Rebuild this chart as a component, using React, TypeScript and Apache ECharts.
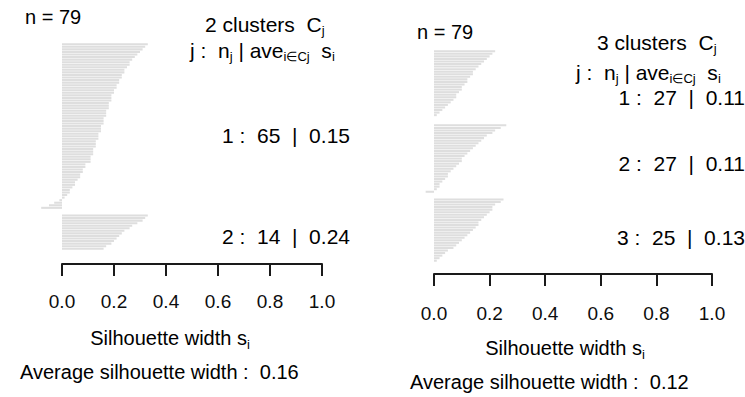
import React, { useEffect, useRef } from "react";
import * as echarts from "echarts";

// ---- data ----
const leftCluster1 = [
  0.33, 0.32, 0.31, 0.3, 0.29, 0.28, 0.27, 0.26, 0.26, 0.25, 0.24,
  0.24, 0.23, 0.23, 0.22, 0.22, 0.21, 0.21, 0.2, 0.2, 0.19, 0.19, 0.19, 0.18, 0.18, 0.18, 0.17, 0.17, 0.17, 0.16, 0.16,
  0.16, 0.15, 0.15, 0.15, 0.14, 0.14, 0.14, 0.13, 0.13, 0.13, 0.12, 0.12, 0.12, 0.11, 0.11, 0.11,
  0.09, 0.09, 0.08, 0.08, 0.07, 0.07, 0.06, 0.05, 0.05, 0.04, 0.03, 0.03, 0.02, 0.01,
  -0.01, -0.03, -0.05, -0.08,
];
const leftCluster2 = [0.33, 0.32, 0.31, 0.29, 0.27, 0.26, 0.24, 0.23, 0.22, 0.21, 0.2, 0.19, 0.17, 0.16];

const rightCluster1 = [
  0.22, 0.21, 0.2, 0.19, 0.18, 0.17, 0.16, 0.15, 0.14, 0.14, 0.13, 0.12, 0.12, 0.11,
  0.1, 0.1, 0.09, 0.08, 0.08, 0.07, 0.06, 0.05, 0.04, 0.03, 0.02, 0.01, 0.0,
];
const rightCluster2 = [
  0.26, 0.24, 0.22, 0.21, 0.19, 0.18, 0.17, 0.16, 0.15, 0.14, 0.13, 0.12, 0.11, 0.1,
  0.1, 0.09, 0.08, 0.07, 0.06, 0.05, 0.05, 0.04, 0.03, 0.02, 0.02, 0.01, -0.03,
];
const rightCluster3 = [
  0.25, 0.24, 0.22, 0.21, 0.21, 0.2, 0.19, 0.18, 0.17, 0.16, 0.16, 0.15, 0.14,
  0.13, 0.12, 0.11, 0.1, 0.09, 0.08, 0.07, 0.05, 0.04, 0.03, 0.02, 0.01,
];

const xTickValues = [0, 0.2, 0.4, 0.6, 0.8, 1.0];
const totalN = 79;
const leftK = 2;
const rightK = 3;
const leftSummary = [
  { j: 1, n: 65, ave: "0.15" },
  { j: 2, n: 14, ave: "0.24" },
];
const rightSummary = [
  { j: 1, n: 27, ave: "0.11" },
  { j: 2, n: 27, ave: "0.11" },
  { j: 3, n: 25, ave: "0.13" },
];
const leftAverage = "0.16";
const rightAverage = "0.12";

// ---- helpers ----
const FONT = "'Liberation Sans', Arial, Helvetica, sans-serif";
const INK = "#0d0d0d";
const GAP = 2;

function withGaps(clusters: number[][]) {
  const data: (number | string)[] = [];
  clusters.forEach((c, ci) => {
    if (ci > 0) for (let g = 0; g < GAP; g++) data.push("-");
    c.forEach((v) => data.push(v));
  });
  return data;
}

const rich = {
  m: { fontSize: 20, fontFamily: FONT, color: INK, lineHeight: 22 },
  b: { fontSize: 21, fontFamily: FONT, color: INK, lineHeight: 22 },
  s: { fontSize: 13, fontFamily: FONT, color: INK, padding: [13, 0, 0, 0] },
};

function txt(x: number, y: number, text: string, align: string = "left") {
  return {
    type: "text",
    x,
    y,
    silent: true,
    style: {
      text,
      rich,
      align,
      verticalAlign: "middle",
      textAlign: align,
      textVerticalAlign: "middle",
    },
  };
}

function summary(x: number, y: number, row: { j: number; n: number; ave: string }) {
  return txt(x, y, `{b|${row.j} :  ${row.n}  |  ${row.ave}}`, "right");
}

function xAxisFor(gridIndex: number, offset: number, margin: number) {
  return {
    gridIndex,
    type: "value",
    min: 0,
    max: 1,
    interval: 0.2,
    position: "bottom",
    offset,
    axisLine: { show: true, lineStyle: { color: "#1a1a1a", width: 2 } },
    axisTick: { show: true, length: 12, lineStyle: { color: "#1a1a1a", width: 2 } },
    axisLabel: {
      show: true,
      fontSize: 19,
      fontFamily: FONT,
      color: INK,
      margin,
      showMinLabel: true,
      showMaxLabel: true,
      formatter: (v: number) => (xTickValues.some((t) => Math.abs(t - v) < 1e-9) ? v.toFixed(1) : ""),
    },
    splitLine: { show: false },
  };
}

export default function App() {
  const ref = useRef<HTMLDivElement>(null);

  useEffect(() => {
    document.body.style.margin = "0";
    if (!ref.current) return;
    const chart = echarts.init(ref.current, undefined, { renderer: "svg" });

    const leftData = withGaps([leftCluster1, leftCluster2]);
    const rightData = withGaps([rightCluster1, rightCluster2, rightCluster3]);
    const leftCats = leftData.map((_, i) => String(i + 1));
    const rightCats = rightData.map((_, i) => String(i + 1));

    const barStyle = { color: "#dedede" };

    const option = {
      animation: false,
      backgroundColor: "#ffffff",
      grid: [
        { left: 62, width: 260, top: 43, height: 207 },
        { left: 434, width: 278, top: 50, height: 212 },
      ],
      xAxis: [xAxisFor(0, 14, 28), xAxisFor(1, 12, 30)],
      yAxis: [
        { gridIndex: 0, type: "category", data: leftCats, inverse: true, show: false },
        { gridIndex: 1, type: "category", data: rightCats, inverse: true, show: false },
      ],
      series: [
        {
          type: "bar",
          xAxisIndex: 0,
          yAxisIndex: 0,
          data: leftData,
          barWidth: "80%",
          clip: false,
          silent: true,
          itemStyle: barStyle,
        },
        {
          type: "bar",
          xAxisIndex: 1,
          yAxisIndex: 1,
          data: rightData,
          barWidth: "80%",
          clip: false,
          silent: true,
          itemStyle: barStyle,
        },
      ],
      graphic: [
        // left panel
        txt(25, 17, `{m|n = ${totalN}}`),
        txt(205, 24, `{b|${leftK} clusters  C}{s|j}`),
        txt(190, 50, `{b|j :  n}{s|j}{b| | ave}{s|i∈Cj}{b|  s}{s|i}`),
        summary(350, 135, leftSummary[0]),
        summary(350, 236, leftSummary[1]),
        txt(170, 338, `{m|Silhouette width s}{s|i}`, "center"),
        txt(20, 372, `{m|Average silhouette width :  ${leftAverage}}`),
        // right panel
        txt(417, 32, `{m|n = ${totalN}}`),
        txt(597, 42, `{b|${rightK} clusters  C}{s|j}`),
        txt(576, 72, `{b|j :  n}{s|j}{b| | ave}{s|i∈Cj}{b|  s}{s|i}`),
        summary(745, 97, rightSummary[0]),
        summary(745, 163, rightSummary[1]),
        summary(745, 237, rightSummary[2]),
        txt(565, 348, `{m|Silhouette width s}{s|i}`, "center"),
        txt(410, 382, `{m|Average silhouette width :  ${rightAverage}}`),
      ],
    };

    chart.setOption(option as any);
    return () => chart.dispose();
  }, []);

  return (
    <div
      ref={ref}
      style={{ position: "absolute", left: 0, top: 0, width: 745, height: 397, background: "#fff" }}
    />
  );
}
